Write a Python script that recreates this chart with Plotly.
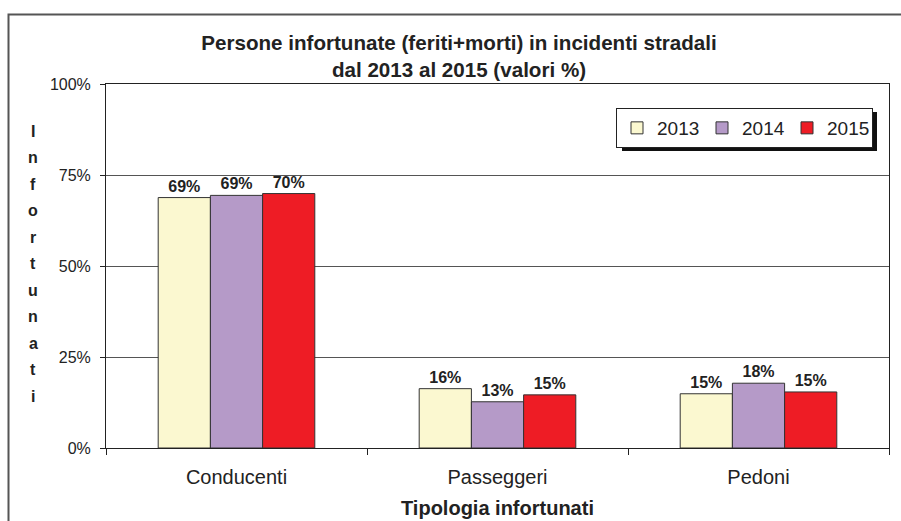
import plotly.graph_objects as go

categories = ["Conducenti", "Passeggeri", "Pedoni"]
years = ["2013", "2014", "2015"]
values_2013 = [68.8, 16.3, 14.9]
values_2014 = [69.4, 12.7, 17.8]
values_2015 = [69.9, 14.6, 15.4]
series = [values_2013, values_2014, values_2015]
colors = ["#FBF8D0", "#B59AC8", "#EE1C25"]

FONT = "Arial, Liberation Sans, sans-serif"
W, H = 901, 521
L, R, T, B = 106, 12, 84, 73
PW, PH = W - L - R, H - T - B

def px_x(px):
    return (px - L) / PW

def px_y(py):
    return (H - B - py) / PH

fig = go.Figure()
for name, vals, col in zip(years, series, colors):
    fig.add_trace(go.Bar(
        name=name, x=categories, y=vals,
        marker=dict(color=col, line=dict(color="#333333", width=1)),
        texttemplate="%{y:.0f}%", textposition="outside",
        textfont=dict(family=FONT, size=16, color="#222222", weight="bold"),
        cliponaxis=False,
    ))

shapes = [
    # outer chart border
    dict(type="rect", xref="paper", yref="paper",
         x0=px_x(8.5), x1=px_x(910), y0=px_y(530), y1=px_y(14.5),
         line=dict(color="#555555", width=2), fillcolor="rgba(0,0,0,0)", layer="below"),
    # legend shadow
    dict(type="rect", xref="paper", yref="paper",
         x0=px_x(622), x1=px_x(877), y0=px_y(151), y1=px_y(112),
         line=dict(width=0), fillcolor="#111111", layer="above"),
]

annotations = []
letters = "Infortunati"
n = len(letters)
for i, ch in enumerate(letters):
    annotations.append(dict(
        text=ch, xref="paper", yref="paper", x=px_x(33), y=px_y(263.5),
        yshift=-(i - (n - 1) / 2) * 26.5, showarrow=False,
        font=dict(family=FONT, size=16, color="#222222", weight="bold"),
        xanchor="center", yanchor="middle"))

fig.update_layout(
    width=W, height=H,
    margin=dict(l=L, r=R, t=T, b=B, autoexpand=False),
    paper_bgcolor="white", plot_bgcolor="white",
    barmode="group", bargap=0.4, bargroupgap=0,
    title=dict(text="Persone infortunate (feriti+morti) in incidenti stradali<br>dal 2013 al 2015 (valori %)",
               x=459 / W, xanchor="center", y=1 - 50 / H, yanchor="middle",
               font=dict(family=FONT, size=20.6, color="#222222", weight="bold")),
    legend=dict(orientation="h", x=px_x(873), xanchor="right", y=px_y(108), yanchor="top",
                bgcolor="white", bordercolor="#222222", borderwidth=1,
                entrywidth=40, entrywidthmode="pixels",
                font=dict(family=FONT, size=19, color="#222222")),
    shapes=shapes,
    annotations=annotations,
    xaxis=dict(showline=True, linecolor="#222222", linewidth=1, mirror=True, automargin=False,
               ticks="outside", ticklen=6, tickcolor="#222222", tickson="boundaries",
               tickfont=dict(family=FONT, size=20, color="#222222"),
               ticklabelstandoff=11,
               title=dict(text="Tipologia infortunati", standoff=13,
                          font=dict(family=FONT, size=20, color="#222222", weight="bold"))),
    yaxis=dict(range=[0, 100], tickvals=[0, 25, 50, 75, 100],
               ticktext=["0%", "25%", "50%", "75%", "100%"], automargin=False,
               showline=True, linecolor="#222222", linewidth=1, mirror=True,
               ticks="outside", ticklen=5, tickcolor="#222222",
               showgrid=True, gridcolor="#555555", gridwidth=1, zeroline=False,
               tickfont=dict(family=FONT, size=16, color="#222222"),
               ticklabelstandoff=6),
    showlegend=True,
)

fig.write_html("out.html", config={"displayModeBar": False},
               post_script="document.body.style.margin='0';document.body.style.overflow='hidden';")
